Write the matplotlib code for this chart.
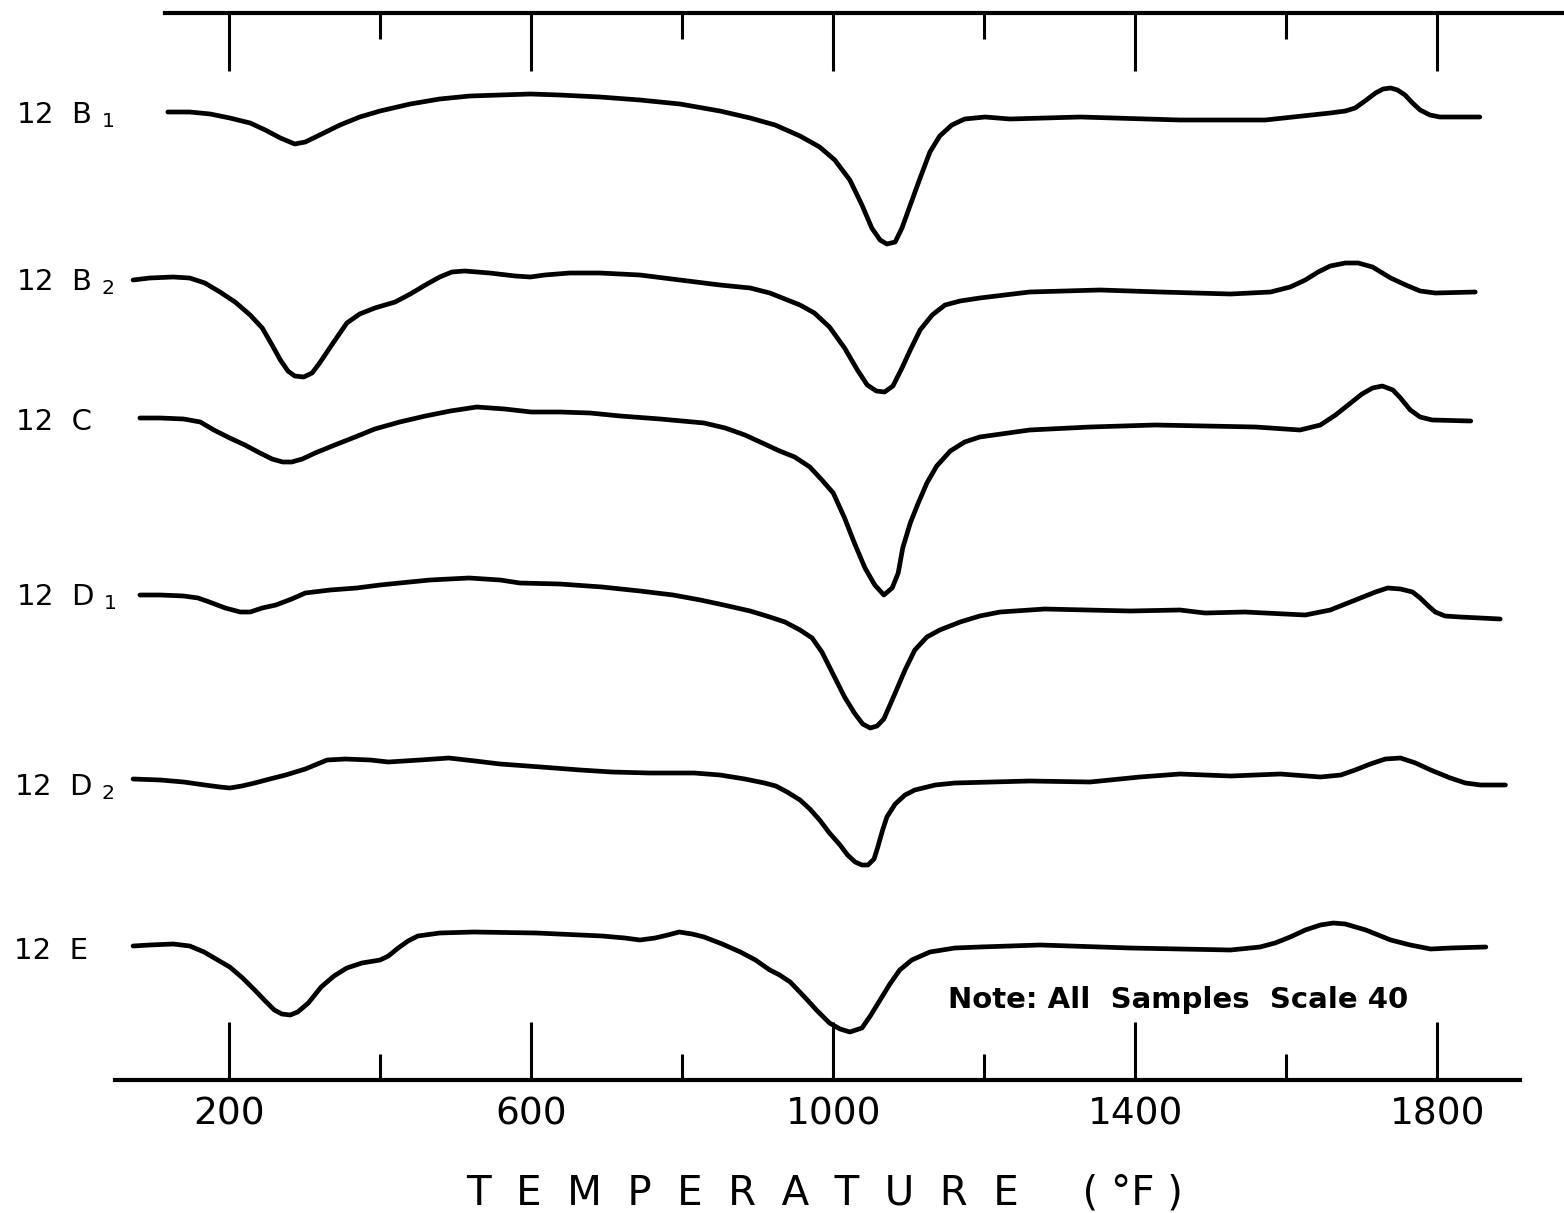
import matplotlib
matplotlib.use("Agg")
import matplotlib.pyplot as plt
import numpy as np

# ---------------- data (temperature in °F, deflection in chart units) ----------------
sample_labels = ["12  B $_1$", "12  B $_2$", "12  C", "12  D $_1$", "12  D $_2$", "12  E"]

b1_t = [119, 148, 175, 201, 228, 248, 268, 287, 301, 320, 347, 373, 400, 440, 479, 519,
        559, 599, 638, 691, 744, 797, 850, 890, 923, 956, 982, 1002, 1022, 1038, 1051,
        1062, 1071, 1082, 1091, 1102, 1115, 1128, 1141, 1157, 1174, 1201, 1234, 1327,
        1459, 1572, 1658, 1678, 1691, 1704, 1718, 1728, 1738, 1747, 1757, 1767, 1777,
        1790, 1803, 1856]
b1_d = [0, 0, -2, -6, -11, -18, -26, -32, -30, -23, -13, -5, 1, 8, 13, 16,
        17, 18, 17, 15, 12, 8, 1, -6, -13, -24, -35, -48, -68, -93, -116,
        -128, -132, -130, -116, -93, -66, -40, -24, -13, -7, -5, -7, -5,
        -8, -8, -1, 1, 4, 11, 19, 23, 24, 22, 17, 9, 2,
        -3, -5, -5]

b2_t = [73, 95, 126, 148, 168, 188, 208, 228, 244, 257, 268, 278, 287, 299, 310, 320,
        336, 356, 373, 393, 420, 440, 460, 479, 495, 512, 545, 579, 599, 618, 651, 691,
        744, 797, 850, 890, 916, 936, 956, 975, 995, 1015, 1032, 1045, 1057, 1068, 1079,
        1091, 1102, 1115, 1131, 1148, 1168, 1194, 1260, 1353, 1433, 1526, 1579, 1605,
        1625, 1642, 1658, 1678, 1695, 1714, 1738, 1758, 1777, 1797, 1850]
b2_d = [0, 2, 3, 2, -3, -12, -22, -35, -48, -65, -80, -91, -96, -97, -93, -83,
        -65, -43, -34, -28, -22, -14, -5, 3, 8, 9, 7, 4, 3, 5, 7, 7,
        5, 0, -5, -8, -13, -19, -25, -33, -47, -68, -90, -105, -111, -112, -106,
        -88, -70, -50, -35, -25, -21, -18, -12, -10, -12, -14, -12, -7,
        0, 8, 14, 17, 17, 13, 2, -5, -11, -13, -12]

c_t = [82, 109, 140, 162, 180, 201, 221, 241, 257, 271, 283, 297, 314, 340, 367, 393,
       426, 460, 493, 528, 565, 600, 638, 678, 718, 771, 829, 857, 883, 909, 929, 949,
       969, 985, 1000, 1015, 1028, 1042, 1055, 1067, 1078, 1086, 1092, 1102, 1112, 1124,
       1137, 1155, 1174, 1194, 1260, 1340, 1426, 1559, 1618, 1645, 1665, 1685, 1700,
       1714, 1727, 1741, 1751, 1764, 1777, 1793, 1844]
c_d = [0, 0, -1, -4, -12, -20, -27, -35, -41, -44, -44, -41, -35, -27, -19, -11,
       -4, 2, 7, 11, 9, 6, 6, 5, 2, -1, -5, -10, -17, -26, -33, -39,
       -49, -62, -75, -100, -125, -150, -167, -177, -170, -155, -130, -105, -86, -65,
       -48, -33, -24, -19, -12, -9, -7, -9, -12, -7, 3, 15, 24,
       30, 32, 28, 20, 8, 1, -2, -3]

d1_t = [82, 109, 140, 159, 174, 195, 215, 228, 244, 262, 283, 301, 334, 369, 400, 426,
        466, 518, 559, 585, 638, 694, 744, 788, 824, 855, 890, 916, 936, 956, 972, 985,
        995, 1015, 1028, 1039, 1049, 1058, 1067, 1082, 1095, 1108, 1124, 1141, 1168,
        1194, 1221, 1280, 1393, 1459, 1492, 1545, 1625, 1658, 1678, 1698, 1718, 1734,
        1751, 1767, 1777, 1788, 1797, 1810, 1830, 1883]
d1_d = [0, 0, -1, -3, -7, -13, -17, -17, -13, -10, -4, 2, 5, 7, 10, 12,
        15, 17, 15, 12, 11, 8, 4, 0, -5, -10, -16, -22, -27, -35, -43, -57,
        -72, -102, -118, -129, -133, -131, -124, -98, -75, -55, -42, -35, -27,
        -21, -17, -14, -16, -15, -18, -17, -20, -15, -9, -3, 3, 7,
        6, 3, -3, -11, -17, -21, -22, -24]

d2_t = [73, 109, 140, 168, 188, 201, 217, 234, 254, 275, 301, 330, 354, 387, 411, 453,
        491, 526, 559, 613, 665, 707, 757, 816, 850, 883, 909, 924, 939, 956, 969, 982,
        995, 1009, 1019, 1029, 1038, 1046, 1054, 1059, 1065, 1071, 1082, 1095, 1108,
        1135, 1161, 1260, 1340, 1406, 1459, 1526, 1592, 1645, 1672, 1691, 1711, 1731,
        1751, 1771, 1791, 1817, 1837, 1857, 1890]
d2_d = [0, -1, -3, -6, -8, -9, -7, -4, 0, 4, 10, 19, 20, 19, 17, 19,
        21, 18, 15, 12, 9, 7, 6, 6, 4, 0, -4, -7, -13, -21, -30, -41,
        -54, -66, -76, -83, -86, -86, -80, -68, -52, -38, -25, -16, -11,
        -6, -4, -2, -3, 2, 5, 3, 5, 2, 4, 9, 15, 20,
        21, 16, 9, 1, -4, -6, -6]

e_t = [73, 95, 126, 148, 167, 185, 201, 218, 234, 248, 260, 270, 281, 291, 305, 322,
       339, 356, 376, 400, 411, 424, 437, 450, 479, 524, 607, 694, 724, 744, 764, 781,
       796, 813, 829, 853, 877, 897, 916, 929, 943, 962, 979, 995, 1009, 1022, 1038,
       1049, 1062, 1075, 1088, 1104, 1128, 1161, 1194, 1274, 1393, 1526, 1565, 1585,
       1605, 1625, 1645, 1662, 1678, 1705, 1738, 1764, 1791, 1817, 1864]
e_d = [0, 1, 2, 0, -6, -14, -21, -32, -44, -55, -64, -68, -69, -66, -57, -41,
       -30, -22, -17, -14, -10, -2, 5, 10, 13, 14, 13, 10, 8, 6, 8, 11,
       14, 12, 9, 2, -6, -14, -24, -29, -36, -51, -65, -77, -83, -86, -82,
       -70, -54, -38, -24, -14, -6, -2, -1, 1, -2, -4, -1, 3,
       9, 16, 21, 23, 22, 16, 6, 1, -3, -2, -1]

major_ticks = [200, 600, 1000, 1400, 1800]
minor_ticks = [400, 800, 1200, 1600]

# ---------------- layout ----------------
curve_offsets = [1101, 933, 795, 618, 434, 267]
series = [(b1_t, b1_d), (b2_t, b2_d), (c_t, c_d), (d1_t, d1_d), (d2_t, d2_d), (e_t, e_d)]
label_y = [1090, 923, 783, 608, 418, 254]
label_x = [-82, -82, -82, -82, -85, -85]

fig = plt.figure(figsize=(15.64, 12.13), dpi=100)
ax = fig.add_axes([0, 0, 1, 1])
ax.set_xlim(-103.2, 1967.5)
ax.set_ylim(0, 1213)

for (t, d), off in zip(series, curve_offsets):
    ax.plot(t, np.asarray(d) + off, color="black", lw=3.4,
            solid_joinstyle="round", solid_capstyle="round")

for lab, x, y in zip(sample_labels, label_x, label_y):
    ax.text(x, y, lab, fontsize=21, ha="left", va="baseline", color="black",
            family="DejaVu Sans")

ax.spines["left"].set_visible(False)
ax.spines["right"].set_visible(False)
ax.spines["bottom"].set_position(("data", 133))
ax.spines["bottom"].set_bounds(49, 1909)
ax.spines["bottom"].set_linewidth(3)
ax.spines["top"].set_position(("data", 1200))
ax.spines["top"].set_bounds(115, 1967.5)
ax.spines["top"].set_linewidth(3)

ax.set_xticks(major_ticks)
ax.set_xticklabels([str(v) for v in major_ticks])
ax.set_xticks(minor_ticks, minor=True)
ax.set_yticks([])
ax.tick_params(axis="x", which="major", direction="in", length=42, width=2.2,
               top=True, bottom=True, labelsize=27, pad=12)
ax.tick_params(axis="x", which="minor", direction="in", length=19, width=2.2,
               top=True, bottom=True)

ax.text(1152, 205, "Note: All  Samples  Scale 40", fontsize=21, fontweight="bold",
        ha="left", va="baseline")
ax.text(989, 8, "T  E  M  P  E  R  A  T  U  R  E     ( °F )", fontsize=29,
        ha="center", va="baseline")

fig.savefig("out.png", dpi=100, facecolor="white")
